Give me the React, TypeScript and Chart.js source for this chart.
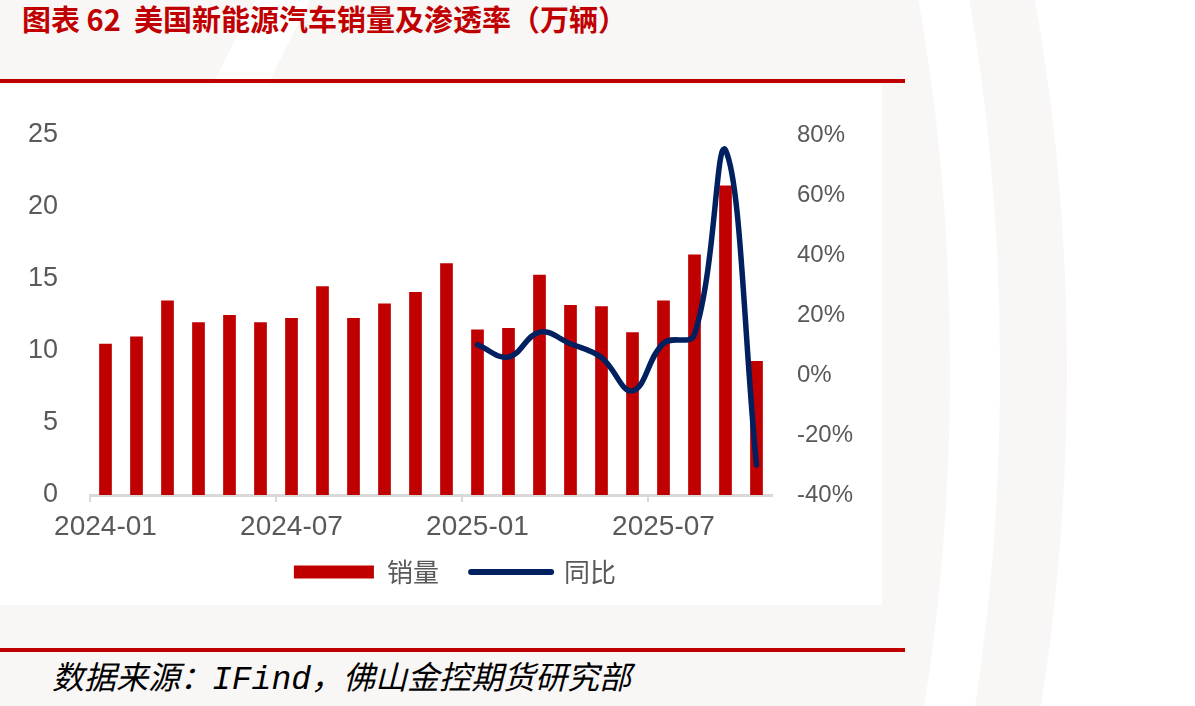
import React, { useEffect, useRef } from "react";
import { Chart, registerables } from "chart.js";

Chart.register(...registerables);

const months = [
  "2024-01", "2024-02", "2024-03", "2024-04", "2024-05", "2024-06",
  "2024-07", "2024-08", "2024-09", "2024-10", "2024-11", "2024-12",
  "2025-01", "2025-02", "2025-03", "2025-04", "2025-05", "2025-06",
  "2025-07", "2025-08", "2025-09", "2025-10",
];

const sales = [
  10.5, 11.0, 13.5, 12.0, 12.5, 12.0, 12.3, 14.5, 12.3, 13.3, 14.1, 16.1,
  11.5, 11.6, 15.3, 13.2, 13.1, 11.3, 13.5, 16.7, 21.5, 9.3,
];

const yoy: (number | null)[] = [
  null, null, null, null, null, null, null, null, null, null, null, null,
  10.1, 6.0, 14.3, 10.4, 5.8, -5.3, 10.6, 13.5, 75.0, -30.0,
];

const salesLabel = "销量";
const yoyLabel = "同比";
const title = "图表 62  美国新能源汽车销量及渗透率（万辆）";
const sourcePrefix = "数据来源：";
const sourceName = "IFind";
const sourceSuffix = "，佛山金控期货研究部";

const RED = "#C00000";
const NAVY = "#002060";
const GREY_TEXT = "#595959";

export default function App() {
  const canvasRef = useRef<HTMLCanvasElement | null>(null);

  useEffect(() => {
    document.body.style.margin = "0";
    const canvas = canvasRef.current;
    if (!canvas) return;
    const chart = new Chart(canvas, {
      type: "bar",
      data: {
        labels: months,
        datasets: [
          {
            type: "bar",
            label: salesLabel,
            data: sales,
            backgroundColor: RED,
            borderWidth: 0,
            barPercentage: 0.41,
            categoryPercentage: 1,
            yAxisID: "y",
            order: 2,
          },
          {
            type: "line",
            label: yoyLabel,
            data: yoy,
            borderColor: NAVY,
            backgroundColor: NAVY,
            borderWidth: 5.5,
            borderCapStyle: "round",
            borderJoinStyle: "round",
            pointRadius: 0,
            tension: 0.4,
            spanGaps: false,
            yAxisID: "y1",
            order: 1,
          } as any,
        ],
      },
      options: {
        animation: false,
        responsive: false,
        devicePixelRatio: 1,
        layout: { padding: { left: 0, top: 39, right: 0, bottom: 11 } },
        plugins: {
          tooltip: { enabled: false },
          legend: {
            position: "bottom",
            labels: {
              usePointStyle: true,
              pointStyleWidth: 80,
              boxHeight: 13,
              padding: 14,
              color: GREY_TEXT,
              font: { family: "'Noto Sans CJK SC', 'Liberation Sans'", size: 26 },
              sort: (a: any, b: any) => a.datasetIndex - b.datasetIndex,
              generateLabels: (c: any) => {
                const items = (Chart.defaults.plugins.legend.labels as any).generateLabels(c);
                items.forEach((it: any) => {
                  if (it.datasetIndex === 0) {
                    it.pointStyle = "rect";
                    it.lineWidth = 0;
                    it.fillStyle = RED;
                    it.strokeStyle = "rgba(0,0,0,0)";
                    it.text = it.text + "\u2002\u2009";
                  } else {
                    it.pointStyle = "line";
                    it.lineWidth = 6;
                    it.lineCap = "round";
                    it.strokeStyle = NAVY;
                    it.fillStyle = NAVY;
                  }
                  it.fontColor = GREY_TEXT;
                });
                return items;
              },
            },
          },
        },
        scales: {
          x: {
            offset: true,
            grid: {
              display: true,
              drawOnChartArea: false,
              drawTicks: true,
              tickLength: 7,
              lineWidth: 2,
              offset: true,
              color: (ctx: any) => (ctx.index % 6 === 0 ? "#d9d9d9" : "rgba(0,0,0,0)"),
            },
            border: { display: true, color: "#d9d9d9", width: 3 },
            ticks: {
              autoSkip: false,
              maxRotation: 0,
              minRotation: 0,
              padding: 8,
              color: GREY_TEXT,
              font: { family: "'Liberation Sans'", size: 28 },
              callback: (_v: any, i: number) => (i % 6 === 0 ? months[i] : ""),
            },
            afterFit: (s: any) => {
              s.height = 50;
              s.paddingLeft = 0;
              s.paddingRight = 0;
            },
          },
          y: {
            position: "left",
            min: 0,
            max: 25,
            grid: { display: false, drawTicks: false },
            border: { display: false },
            ticks: {
              stepSize: 5,
              padding: 32,
              color: GREY_TEXT,
              font: { family: "'Liberation Sans'", size: 27 },
            },
            afterFit: (s: any) => {
              s.width = 90;
              s.paddingTop = 0;
              s.paddingBottom = 0;
            },
          },
          y1: {
            position: "right",
            min: -40,
            max: 80,
            grid: { display: false, drawTicks: false },
            border: { display: false },
            ticks: {
              stepSize: 20,
              padding: 25,
              color: GREY_TEXT,
              font: { family: "'Liberation Sans'", size: 24 },
              callback: (v: any) => `${v}%`,
            },
            afterFit: (s: any) => {
              s.width = 138;
              s.paddingTop = 0;
              s.paddingBottom = 0;
            },
          },
        },
      },
    });
    return () => chart.destroy();
  }, []);

  return (
    <div
      style={{
        position: "relative",
        width: 1195,
        height: 706,
        overflow: "hidden",
        background: "#ffffff",
      }}
    >
      <svg
        width={1195}
        height={706}
        style={{ position: "absolute", left: 0, top: 0 }}
      >
        <defs>
          <clipPath id="rightHalf">
            <rect x={700} y={0} width={495} height={706} />
          </clipPath>
        </defs>
        <rect x={0} y={0} width={700} height={706} fill="#f9f6f6" />
        <ellipse cx={700} cy={370} rx={367} ry={905} fill="#f9f6f6" />
        <ellipse
          cx={700}
          cy={370}
          rx={275}
          ry={800}
          fill="none"
          stroke="#ffffff"
          strokeWidth={50}
          clipPath="url(#rightHalf)"
        />
        <polygon points="255,0 310,0 268,84 213,84" fill="#ffffff" />
      </svg>
      <div
        style={{
          position: "absolute",
          left: 0,
          top: 84,
          width: 882,
          height: 521,
          background: "#ffffff",
        }}
      />
      <div
        style={{
          position: "absolute",
          left: 22,
          top: -2,
          fontFamily: "'Noto Sans CJK SC'",
          fontWeight: 700,
          fontSize: 29,
          lineHeight: "40px",
          color: RED,
          whiteSpace: "pre",
        }}
      >
        {title}
      </div>
      <div
        style={{
          position: "absolute",
          left: 0,
          top: 79,
          width: 905,
          height: 4,
          background: RED,
        }}
      />
      <div style={{ position: "absolute", left: 0, top: 96, width: 910, height: 510 }}>
        <canvas ref={canvasRef} width={910} height={510} />
      </div>
      <div
        style={{
          position: "absolute",
          left: 0,
          top: 648,
          width: 905,
          height: 4,
          background: RED,
        }}
      />
      <div
        style={{
          position: "absolute",
          left: 52,
          top: 654,
          fontFamily: "'Noto Sans CJK SC'",
          fontStyle: "italic",
          fontSize: 32,
          lineHeight: "42px",
          color: "#000000",
          whiteSpace: "pre",
        }}
      >
        {sourcePrefix}
        <span style={{ fontFamily: "'Liberation Mono'", fontSize: 33 }}>{sourceName}</span>
        {sourceSuffix}
      </div>
    </div>
  );
}
